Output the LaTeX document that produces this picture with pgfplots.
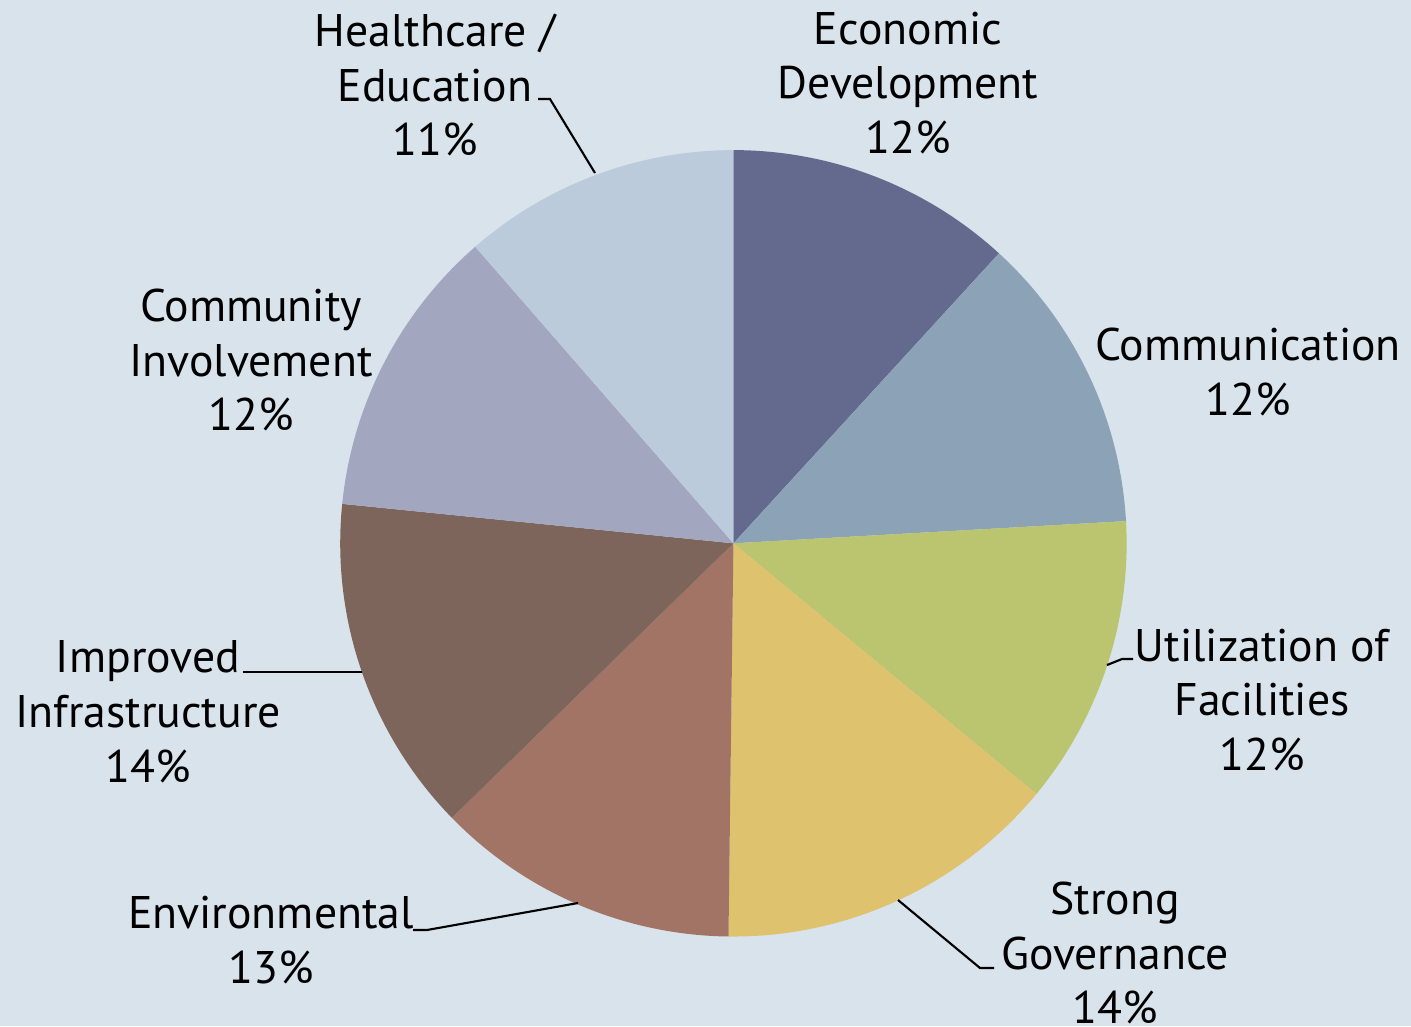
\documentclass[border=0pt]{standalone}
\usepackage{pgfplots}
\pgfplotsset{compat=1.18}
\usepackage{fontspec}
\setmainfont{PT Sans}
\usepackage{xcolor}
\definecolor{bg}{HTML}{D9E3EC}
\definecolor{cecon}{HTML}{636A8D}
\definecolor{ccomm}{HTML}{8CA3B7}
\definecolor{cutil}{HTML}{BBC46F}
\definecolor{cgov}{HTML}{DFC26E}
\definecolor{cenv}{HTML}{A27465}
\definecolor{cinfra}{HTML}{7E655C}
\definecolor{ccomty}{HTML}{A2A6BE}
\definecolor{chealth}{HTML}{BBCBDB}

% one wedge: #1 cumulative start (%), #2 cumulative end (%), #3 colour
\newcommand{\slice}[3]{%
  \fill[#3] (axis cs:0,0) -- (axis cs:{cos(90-3.6*#1)},{sin(90-3.6*#1)})
    arc[start angle={90-3.6*#1}, end angle={90-3.6*#2}, radius=3.93cm] -- cycle;}

\begin{document}
\begin{tikzpicture}[x=0.01cm, y=-0.01cm]
\useasboundingbox[fill=bg] (0,0) rectangle (1411,1026);
\begin{axis}[
  hide axis, scale only axis,
  width=7.86cm, height=7.86cm,
  xmin=-1, xmax=1, ymin=-1, ymax=1,
  at={(7.33cm,-5.43cm)}, anchor=center,
]
% shares (%): 11.8, 12.3, 11.9, 14.2, 12.5, 13.9, 12.0, 11.4
\slice{0}{11.8}{cecon}
\slice{11.8}{24.1}{ccomm}
\slice{24.1}{36.0}{cutil}
\slice{36.0}{50.2}{cgov}
\slice{50.2}{62.7}{cenv}
\slice{62.7}{76.6}{cinfra}
\slice{76.6}{88.6}{ccomty}
\slice{88.6}{100}{chealth}
\end{axis}

% leader lines
\draw[black, line width=0.6pt] (595,173) -- (550,99) -- (538,99);
\draw[black, line width=0.6pt] (898,900) -- (980,968) -- (994,968);
\draw[black, line width=0.6pt] (1107,665) -- (1122,659) -- (1133,659);
\draw[black, line width=0.6pt] (578,903) -- (427,930) -- (413,930);
\draw[black, line width=0.6pt] (362,672) -- (243,672);

% labels
\tikzset{lab/.style={align=center, inner sep=0pt, font=\fontsize{13}{15.6}\selectfont}}
\node[lab] at (908,83) {Economic\\Development\\12\%};
\node[lab] at (1248,372) {Communication\\12\%};
\node[lab] at (1262,700) {Utilization of\\Facilities\\12\%};
\node[lab] at (1115,953) {Strong\\Governance\\14\%};
\node[lab] at (271,940) {Environmental\\13\%};
\node[lab] at (148,712) {Improved\\Infrastructure\\14\%};
\node[lab] at (251,360) {Community\\Involvement\\12\%};
\node[lab] at (435,85) {Healthcare /\\Education\\11\%};
\end{tikzpicture}
\end{document}
